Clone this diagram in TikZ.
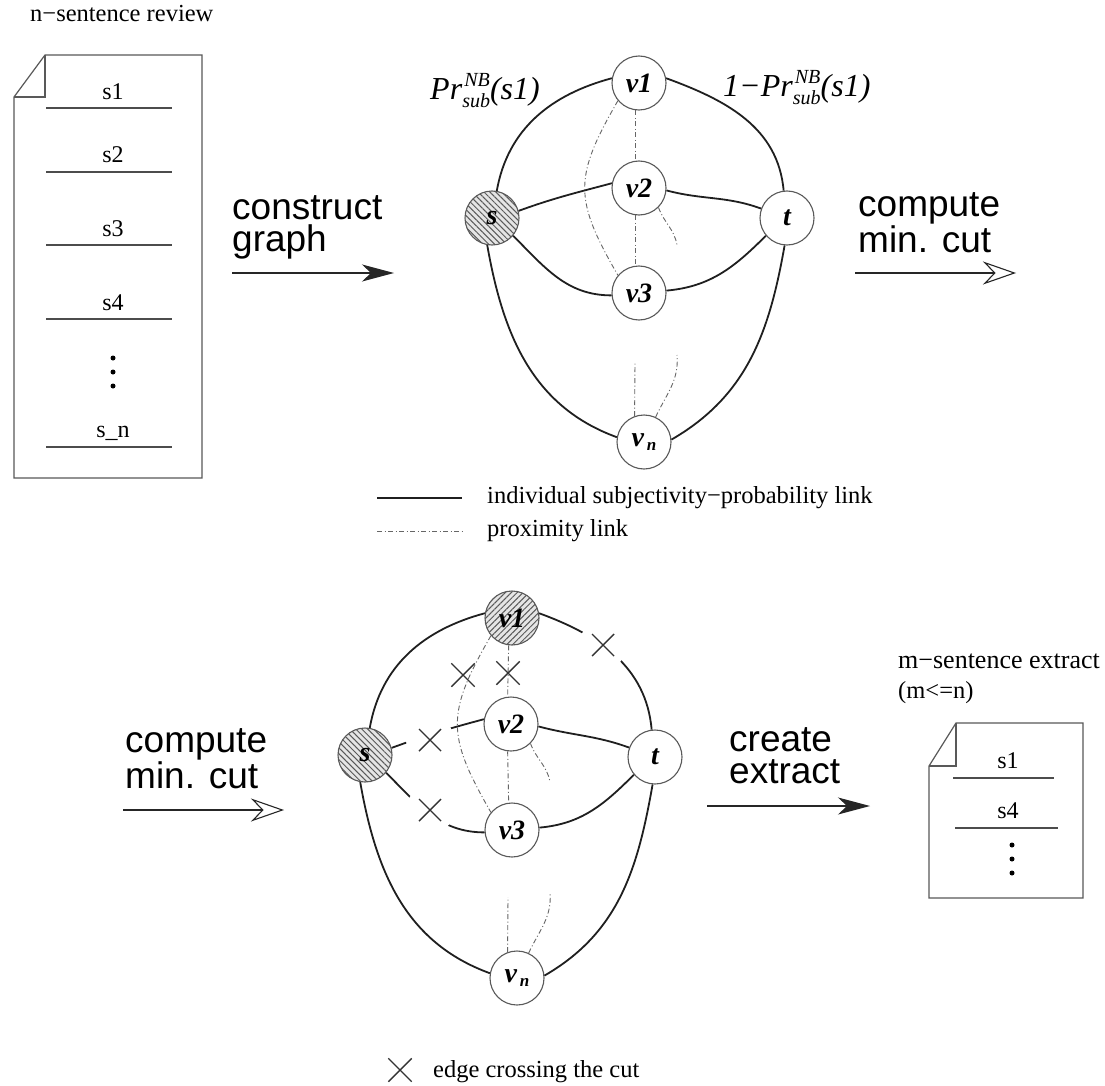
\documentclass[tikz,border=0pt]{standalone}
\usepackage{fontspec}
\setmainfont{Liberation Serif}
\newfontfamily\helv{Liberation Sans}
\usetikzlibrary{arrows.meta,patterns.meta,shapes.misc}

\newcommand{\prsub}{\textit{Pr}\makebox[0pt][l]{\raisebox{13pt}{\fontsize{20}{20}\selectfont\itshape\hspace{2pt}NB}}\raisebox{-8pt}{\fontsize{20}{20}\selectfont\itshape sub}\textit{(s1)}}

\begin{document}
\begin{tikzpicture}[x=1pt,y=-1pt,
  edge/.style={line width=1.8pt, draw=black!88},
  prox/.style={line width=0.9pt, draw=black!60, dash pattern=on 5pt off 2.5pt on 1pt off 2.5pt},
  vtx/.style={circle, draw=black!65, line width=1.1pt, fill=white, minimum size=54pt, inner sep=0pt,
    font=\fontsize{28}{28}\selectfont\bfseries\itshape},
  hatchback/.style={preaction={fill=black!10}, pattern={Lines[angle=-45,distance=4.2pt,line width=1pt]}, pattern color=black!65},
  hatchfwd/.style={preaction={fill=black!10}, pattern={Lines[angle=45,distance=4.2pt,line width=1pt]}, pattern color=black!65},
  doc/.style={draw=black!65, line width=1.2pt},
  docline/.style={draw=black!70, line width=1.1pt},
  doctxt/.style={anchor=base, inner sep=0pt, font=\fontsize{24}{24}\selectfont},
  serif/.style={anchor=base west, inner sep=0pt, font=\fontsize{24.5}{24.5}\selectfont},
  sanslabel/.style={anchor=base west, inner sep=0pt, align=left, font=\helv\fontsize{37}{32}\selectfont},
  flowfilled/.style={draw=black!85, line width=1.1pt, -{Stealth[length=32pt,width=17pt,inset=9pt]}},
  flowopen/.style={draw=black!85, line width=1.1pt, -{Stealth[open,length=33pt,width=23pt,inset=11pt]}},
  cutgap/.style={circle, fill=white, minimum size=48pt, inner sep=0pt,
    path picture={\draw[line width=1.4pt, black!80]
      (path picture bounding box.center) +(-11,-11) -- +(11,11)
      (path picture bounding box.center) +(-11,11) -- +(11,-11);}},
  cutx/.style={cross out, draw=black!80, line width=1.4pt, minimum size=22pt, inner sep=0pt},
  dot/.style={circle, fill=black, inner sep=0pt, minimum size=5pt}
]
\useasboundingbox[fill=white] (0,0) rectangle (1105,1086);

% ---------- input review document ----------
\node[serif] (revtitle) at (30,22) {n−sentence review};
\draw[doc] (14,97) -- (45,55) -- (202,55) -- (202,478) -- (14,478) -- cycle;
\draw[doc] (45,55) -- (45,97) -- (14,97);
\node[doctxt] (rs1) at (113,100) {s1};
\node[doctxt] (rs2) at (113,163) {s2};
\node[doctxt] (rs3) at (113,236) {s3};
\node[doctxt] (rs4) at (113,310) {s4};
\node[doctxt] (rsn) at (113,437) {s\_n};
\foreach \y in {108,172,245,319,447} \draw[docline] (46,\y) -- (172,\y);
\node[dot] (rd1) at (113,358) {};
\node[dot] (rd2) at (113,372) {};
\node[dot] (rd3) at (113,386) {};

% ---------- construct graph (anchor on the last line) ----------
\node[sanslabel] (lbconstruct) at (232,251) {construct\\graph};
\coordinate (ca1) at (232,273); \coordinate (ca2) at (394,273);
\draw[flowfilled] (ca1) -- (ca2);

% ---------- sentence graph ----------
\node[vtx, hatchback] (s) at (492,218) {s};
\node[vtx] (v1) at (639,83) {v1};
\node[vtx] (v2) at (639,188) {v2};
\node[vtx] (v3) at (639,293) {v3};
\node[vtx] (t) at (787,218) {t};
\node[vtx] (vn) at (644,442) {v\hspace{3pt}\raisebox{-4pt}{\fontsize{17}{17}\selectfont n}};

\draw[edge] (s.80) to[out=80,in=195] (v1.170);
\draw[edge] (v1.10) to[out=-20,in=95] (t.97);
\draw[edge] (s.15) to[out=20,in=195] (v2.170);
\draw[edge] (v2.-5) to[out=-15,in=160] (t.160);
\draw[edge] (s.-40) to[out=-45,in=180] (v3.185);
\draw[edge] (v3.5) to[out=5,in=225] (t.-140);
\draw[edge] (s.-100) to[out=-80,in=160] (vn.170);
\draw[edge] (t.-95) to[out=-100,in=30] (vn.5);

\draw[prox] (v1.220) to[out=240,in=120,looseness=1.3] (v3.140);
\draw[prox] (v1.-97) -- (v2.97);
\draw[prox] (v2.-97) -- (v3.97);
\coordinate (pa) at (677,245);
\draw[prox] (v2.-45) to[out=-70,in=100] (pa);
\coordinate (pb) at (635,362);
\draw[prox] (vn.110) -- (pb);
\coordinate (pc) at (677,355);
\draw[prox] (vn.65) to[out=65,in=-85] (pc);

\node[anchor=base west, inner sep=0pt, font=\fontsize{32}{32}\selectfont] (wsv1) at (430,100) {\prsub};
\node[anchor=base west, inner sep=0pt, font=\fontsize{32}{32}\selectfont] (wv1t) at (723,97) {\textit{1−}\prsub};

% ---------- compute min. cut (top) ----------
\node[sanslabel] (lbcut1) at (858,252) {compute\\min. cut};
\coordinate (cb1) at (855,273); \coordinate (cb2) at (1016,273);
\draw[flowopen] (cb1) -- (cb2);

% ---------- legend ----------
\coordinate (la1) at (377,498); \coordinate (la2) at (462,498);
\draw[edge] (la1) -- (la2);
\node[serif] (lgsolid) at (487,503) {individual subjectivity−probability link};
\coordinate (lb1) at (377,531); \coordinate (lb2) at (462,531);
\draw[prox] (lb1) -- (lb2);
\node[serif] (lgprox) at (487,536) {proximity link};

% ---------- compute min. cut (bottom) ----------
\node[sanslabel] (lbcut2) at (125,788) {compute\\min. cut};
\coordinate (cc1) at (123,810); \coordinate (cc2) at (284,810);
\draw[flowopen] (cc1) -- (cc2);

% ---------- graph after the cut ----------
\node[vtx, hatchback] (bs) at (365,755) {s};
\node[vtx, hatchfwd] (bv1) at (512,618) {v1};
\node[vtx] (bv2) at (511,724) {v2};
\node[vtx] (bv3) at (512,830) {v3};
\node[vtx] (bt) at (655,757) {t};
\node[vtx] (bvn) at (517,978) {v\hspace{3pt}\raisebox{-4pt}{\fontsize{17}{17}\selectfont n}};

\draw[edge] (bs.80) to[out=80,in=195] (bv1.170);
\draw[edge] (bv1.10) to[out=-20,in=95] (bt.97);
\draw[edge] (bs.15) to[out=20,in=195] (bv2.170);
\draw[edge] (bv2.-5) to[out=-15,in=160] (bt.160);
\draw[edge] (bs.-40) to[out=-45,in=180] (bv3.185);
\draw[edge] (bv3.5) to[out=5,in=225] (bt.-140);
\draw[edge] (bs.-100) to[out=-80,in=160] (bvn.170);
\draw[edge] (bt.-95) to[out=-100,in=30] (bvn.5);

\draw[prox] (bv1.220) to[out=240,in=120,looseness=1.3] (bv3.140);
\draw[prox] (bv1.-97) -- (bv2.97);
\draw[prox] (bv2.-97) -- (bv3.97);
\coordinate (qa) at (550,782);
\draw[prox] (bv2.-45) to[out=-70,in=100] (qa);
\coordinate (qb) at (508,897);
\draw[prox] (bvn.110) -- (qb);
\coordinate (qc) at (550,892);
\draw[prox] (bvn.65) to[out=65,in=-85] (qc);

% edges crossing the cut
\node[cutgap] (xv1t) at (603,645) {};
\node[cutgap] (xsv2) at (430,740) {};
\node[cutgap] (xsv3) at (430,810) {};
\node[cutx] (xp13) at (463,675) {};
\node[cutx] (xp12) at (508,673) {};

% ---------- create extract ----------
\node[sanslabel] (lbextract) at (729,783) {create\\extract};
\coordinate (cd1) at (707,806); \coordinate (cd2) at (870,806);
\draw[flowfilled] (cd1) -- (cd2);

% ---------- extract document ----------
\node[serif, font=\fontsize{26}{26}\selectfont] (exttitle) at (898,668) {m−sentence extract};
\node[serif] (extcond) at (898,698) {(m<=n)};
\draw[doc] (929,766) -- (956,723) -- (1083,723) -- (1083,898) -- (929,898) -- cycle;
\draw[doc] (956,723) -- (956,766) -- (929,766);
\node[doctxt] (es1) at (1008,768) {s1};
\node[doctxt] (es4) at (1008,818) {s4};
\draw[docline] (953,778) -- (1054,778);
\draw[docline] (955,828) -- (1058,828);
\node[dot] (ed1) at (1012,845) {};
\node[dot] (ed2) at (1012,859) {};
\node[dot] (ed3) at (1012,873) {};

% ---------- cut legend ----------
\node[cutx] (lgx) at (400,1070) {};
\node[serif] (lgcut) at (433,1077) {edge crossing the cut};
\end{tikzpicture}
\end{document}
